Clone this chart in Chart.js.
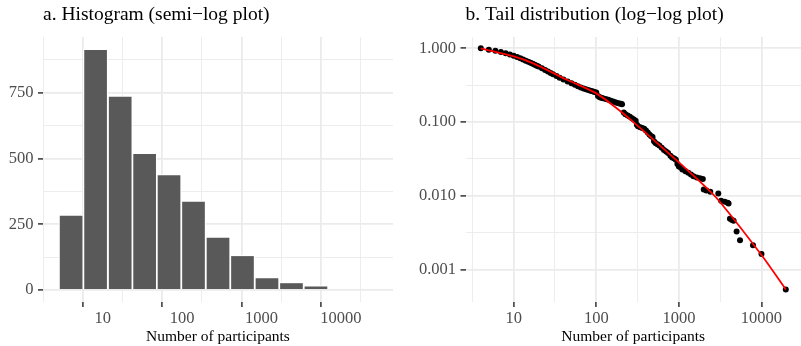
<!DOCTYPE html>
<html>
<head>
<meta charset="utf-8">
<script src="https://cdn.jsdelivr.net/npm/chart.js@4.4.1/dist/chart.umd.min.js"></script>
<style>
  html, body { margin: 0; padding: 0; background: #fff; overflow: hidden; }
  #wrap { position: relative; width: 801px; height: 346px; overflow: hidden; }
  #histChart { position: absolute; left: 0; top: 0; }
  #tailChart { position: absolute; left: 400px; top: 0; }
</style>
</head>
<body>
<div id="wrap">
  <canvas id="histChart" width="400" height="346"></canvas>
  <canvas id="tailChart" width="405" height="346"></canvas>
</div>
<script>
// a. histogram, bins are equal width on the log scale
const histBins = [4, 8.13, 16.6, 33.7, 68.4, 139, 283, 575, 1170, 2380, 4840]
const histCounts = [285, 916, 738, 520, 439, 339, 202, 132, 48, 29, 16]
const histMajorX = [10, 100, 1000, 10000]
const histMinorX = [3.162, 31.62, 316.2, 3162, 31623]
const histMajorY = [0, 250, 500, 750]
const histMinorY = [125, 375, 625, 875]

// b. tail distribution P(X >= x)
const tailX = [4, 5, 6, 7, 8, 9, 10, 11, 12, 13, 14, 15, 16, 17, 18, 19, 20, 22, 24, 26, 28, 30, 33, 36, 40, 45,
  50, 55, 60, 65, 70, 75, 80, 85, 90, 95, 100, 105, 110, 115, 120, 130, 140, 150, 160, 170, 180, 190, 200, 205,
  215, 225, 240, 255, 270, 285, 300, 310, 320, 340, 360, 380, 400, 420, 440, 460, 480, 500, 520, 550, 580, 620,
  660, 700, 740, 790, 830, 880, 920, 960, 1000, 1050, 1100, 1200, 1300, 1400, 1500, 1650, 1800, 1950, 2000, 2150,
  2400, 3000, 3250, 3600, 3900, 4000, 4150, 4400, 4600, 5000, 5500, 7900, 10000, 19700]
const tailY = [1.000, 0.957, 0.925, 0.89, 0.857, 0.826, 0.79, 0.76, 0.73, 0.705, 0.68, 0.657, 0.636, 0.617, 0.598,
  0.581, 0.565, 0.535, 0.508, 0.485, 0.463, 0.444, 0.42, 0.4, 0.378, 0.355,
  0.336, 0.32, 0.306, 0.295, 0.286, 0.279, 0.272, 0.266, 0.261, 0.256, 0.252, 0.225, 0.217, 0.213, 0.21, 0.206,
  0.201, 0.195, 0.19, 0.186, 0.182, 0.179, 0.177, 0.174,
  0.135, 0.128, 0.123, 0.118, 0.113, 0.108, 0.104, 0.092, 0.088, 0.085, 0.083, 0.081, 0.077, 0.072, 0.068, 0.065,
  0.063, 0.055, 0.052, 0.05, 0.048, 0.045,
  0.042, 0.04, 0.038, 0.035, 0.033, 0.032, 0.031, 0.027, 0.025, 0.0245, 0.0228, 0.0215, 0.0206, 0.0195, 0.0184,
  0.0178, 0.0173, 0.0169, 0.0122, 0.0118,
  0.0114, 0.0108, 0.0086, 0.0083, 0.0081, 0.0079, 0.0049, 0.0047, 0.0046, 0.0033, 0.0025, 0.00215, 0.00163, 0.00054]
// fitted curve (red)
const fitX = [4, 10, 17, 43, 100, 175, 300, 1000, 1800, 3000, 10000, 19700]
const fitY = [1, 0.775, 0.63, 0.38, 0.245, 0.155, 0.094, 0.0285, 0.0156, 0.0088, 0.00158, 0.00054]
const tailMajorX = [10, 100, 1000, 10000]
const tailMinorX = [3.162, 31.62, 316.2, 3162]
const tailMajorY = [0.001, 0.01, 0.1, 1]
const tailMinorY = [0.003162, 0.03162, 0.3162]

Chart.defaults.font.family = "'Liberation Serif', 'Times New Roman', serif"

const tickGrey = '#4D4D4D'

function isMajor(ctx, majors) {
  return !!(ctx.tick && majors.includes(ctx.tick.value))
}

function gridFor(majors) {
  return {
    color: '#EBEBEB',
    lineWidth: ctx => isMajor(ctx, majors) ? 1.8 : 0.9,
    tickColor: ctx => isMajor(ctx, majors) ? '#333333' : 'rgba(0,0,0,0)',
    tickWidth: 1.5,
    tickLength: 5
  }
}

function setTicks(majors, minors) {
  return scale => {
    scale.ticks = majors.concat(minors).sort((a, b) => a - b).map(v => ({ value: v }))
  }
}

function titleFor(text) {
  return {
    display: true,
    text: text,
    align: 'start',
    fullSize: false,
    color: '#000',
    font: { size: 19.5, weight: 'normal' },
    padding: { top: 3.4, bottom: 10.2 }
  }
}

const xTitle = {
  display: true,
  text: 'Number of participants',
  color: '#000',
  font: { size: 15.5 },
  padding: { top: 0, bottom: 0 }
}

const histChart = new Chart(document.getElementById('histChart'), {
  type: 'bar',
  data: {
    datasets: [{
      data: histBins.map((b, i) => ({ x: b, y: histCounts[i] })),
      backgroundColor: '#595959',
      borderColor: '#FFFFFF',
      borderWidth: 1.2,
      barPercentage: 1,
      categoryPercentage: 1
    }]
  },
  options: {
    responsive: false,
    animation: false,
    devicePixelRatio: 1,
    layout: { padding: { left: 0, right: 7, top: 0, bottom: 0 } },
    plugins: {
      legend: { display: false },
      tooltip: { enabled: false },
      title: titleFor('a. Histogram (semi−log plot)')
    },
    scales: {
      x: {
        type: 'logarithmic',
        min: 1.77,
        max: 45186,
        afterBuildTicks: setTicks(histMajorX, histMinorX),
        afterFit: s => { s.height = 44 },
        grid: gridFor(histMajorX),
        border: { display: false },
        ticks: {
          autoSkip: false,
          maxRotation: 0,
          padding: 2,
          color: tickGrey,
          font: { size: 16.5 },
          callback: v => histMajorX.includes(v) ? String(v) : ''
        },
        title: xTitle
      },
      y: {
        type: 'linear',
        min: -45.8,
        max: 961.8,
        afterBuildTicks: setTicks(histMajorY, histMinorY),
        afterFit: s => { s.width = 43 },
        grid: gridFor(histMajorY),
        border: { display: false },
        ticks: {
          autoSkip: false,
          padding: 4.5,
          color: tickGrey,
          font: { size: 16.5 },
          callback: v => histMajorY.includes(v) ? String(v) : ''
        }
      }
    }
  }
})

const tailChart = new Chart(document.getElementById('tailChart'), {
  type: 'scatter',
  data: {
    datasets: [
      {
        type: 'line',
        data: fitX.map((x, i) => ({ x: x, y: fitY[i] })),
        borderColor: '#FF0000',
        borderWidth: 1.8,
        pointRadius: 0,
        tension: 0.3,
        order: 0
      },
      {
        data: tailX.map((x, i) => ({ x: x, y: tailY[i] })),
        backgroundColor: '#000000',
        borderWidth: 0,
        pointRadius: 3,
        order: 1
      }
    ]
  },
  options: {
    responsive: false,
    animation: false,
    devicePixelRatio: 1,
    layout: { padding: { left: 0, right: 2, top: 0, bottom: 0 } },
    plugins: {
      legend: { display: false },
      tooltip: { enabled: false },
      title: titleFor('b. Tail distribution (log−log plot)')
    },
    scales: {
      x: {
        type: 'logarithmic',
        min: 2.61,
        max: 30100,
        afterBuildTicks: setTicks(tailMajorX, tailMinorX),
        afterFit: s => { s.height = 44 },
        grid: gridFor(tailMajorX),
        border: { display: false },
        ticks: {
          autoSkip: false,
          maxRotation: 0,
          padding: 2,
          color: tickGrey,
          font: { size: 16.5 },
          callback: v => tailMajorX.includes(v) ? String(v) : ''
        },
        title: xTitle
      },
      y: {
        type: 'logarithmic',
        min: 0.000365,
        max: 1.422,
        afterBuildTicks: setTicks(tailMajorY, tailMinorY),
        afterFit: s => { s.width = 65.5 },
        grid: gridFor(tailMajorY),
        border: { display: false },
        ticks: {
          autoSkip: false,
          padding: 4.5,
          color: tickGrey,
          font: { size: 16.5 },
          callback: v => tailMajorY.includes(v) ? v.toFixed(3) : ''
        }
      }
    }
  }
})
</script>
</body>
</html>
